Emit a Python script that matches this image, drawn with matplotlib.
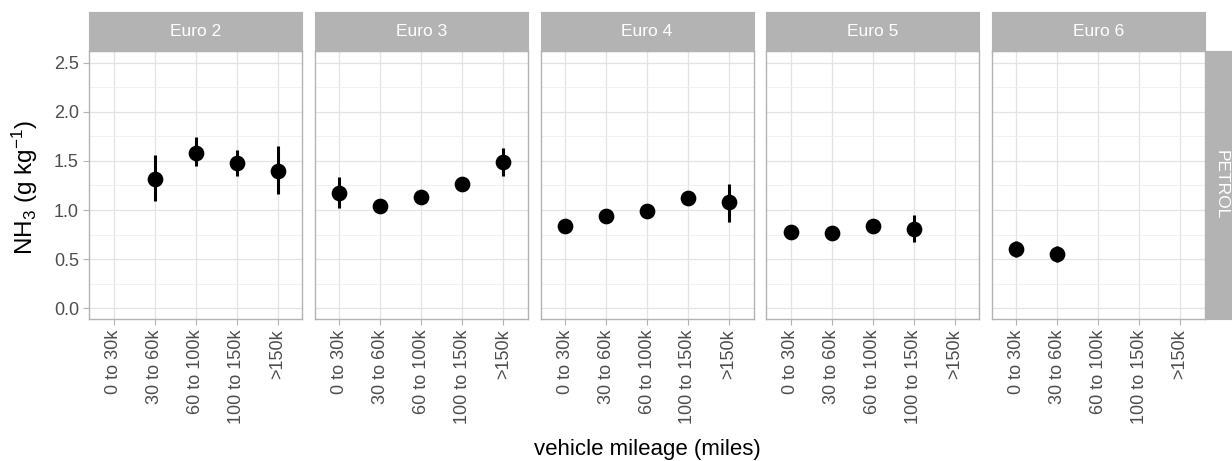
import numpy as np
import matplotlib
matplotlib.use("Agg")
import matplotlib.pyplot as plt
from matplotlib.ticker import MultipleLocator

plt.rcParams['font.family'] = ['Liberation Sans', 'DejaVu Sans']
plt.rcParams['mathtext.fontset'] = 'custom'
plt.rcParams['mathtext.rm'] = 'Liberation Sans'
plt.rcParams['mathtext.it'] = 'Liberation Sans:italic'
plt.rcParams['mathtext.bf'] = 'Liberation Sans:bold'

nan = np.nan
categories = ['0 to 30k', '30 to 60k', '60 to 100k', '100 to 150k', '>150k']
euro_classes = ['Euro 2', 'Euro 3', 'Euro 4', 'Euro 5', 'Euro 6']
fuel = 'PETROL'

euro2_mean = [nan, 1.32, 1.585, 1.48, 1.395]
euro2_lo = [nan, 1.09, 1.45, 1.35, 1.16]
euro2_hi = [nan, 1.56, 1.74, 1.615, 1.65]

euro3_mean = [1.17, 1.04, 1.13, 1.27, 1.487]
euro3_lo = [1.025, 1.00, 1.09, 1.23, 1.344]
euro3_hi = [1.34, 1.08, 1.17, 1.31, 1.635]

euro4_mean = [0.84, 0.943, 0.994, 1.126, 1.08]
euro4_lo = [0.80, 0.905, 0.955, 1.09, 0.876]
euro4_hi = [0.88, 0.98, 1.035, 1.16, 1.266]

euro5_mean = [0.777, 0.764, 0.84, 0.804, nan]
euro5_lo = [0.74, 0.725, 0.80, 0.672, nan]
euro5_hi = [0.81, 0.80, 0.875, 0.95, nan]

euro6_mean = [0.604, 0.553, nan, nan, nan]
euro6_lo = [0.525, 0.475, nan, nan, nan]
euro6_hi = [0.68, 0.63, nan, nan, nan]

means = [euro2_mean, euro3_mean, euro4_mean, euro5_mean, euro6_mean]
lows = [euro2_lo, euro3_lo, euro4_lo, euro5_lo, euro6_lo]
highs = [euro2_hi, euro3_hi, euro4_hi, euro5_hi, euro6_hi]

W, H = 1232, 461
fig = plt.figure(figsize=(W / 100, H / 100), dpi=100)

border = '#B3B3B3'
grid_major = '#E3E3E3'
grid_minor = '#EFEFEF'
txt_grey = '#4D4D4D'

left0, pw, step = 89.3, 213.0, 225.6
ptop, pbot = 50.7, 319.3
stop = 11.7

x = np.arange(len(categories))
yt = np.arange(0, 2.51, 0.5)
for i, name in enumerate(euro_classes):
    l = left0 + i * step
    ax = fig.add_axes([l / W, 1 - pbot / H, pw / W, (pbot - ptop) / H])
    m = np.array(means[i], dtype=float)
    lo = np.array(lows[i], dtype=float)
    hi = np.array(highs[i], dtype=float)
    ok = ~np.isnan(m)
    ax.vlines(x[ok], lo[ok], hi[ok], color='black', lw=2.2, zorder=3)
    ax.plot(x[ok], m[ok], 'o', color='black', ms=10.3, zorder=4)
    ax.set_xlim(-0.6, 4.6)
    ax.set_ylim(-0.112, 2.622)
    ax.set_xticks(x)
    ax.set_xticklabels(categories, rotation=90, ha='center', va='top')
    ax.set_yticks(yt)
    ax.set_yticklabels(['%.1f' % v for v in yt])
    ax.yaxis.set_minor_locator(MultipleLocator(0.25))
    ax.grid(True, which='major', color=grid_major, lw=0.9, zorder=0)
    ax.grid(True, which='minor', axis='y', color=grid_minor, lw=0.6, zorder=0)
    ax.set_axisbelow(True)
    ax.tick_params(axis='both', which='major', length=4.5, width=0.8, color=border,
                   labelcolor=txt_grey, labelsize=13, pad=3)
    ax.tick_params(axis='y', which='minor', length=0)
    if i > 0:
        ax.tick_params(axis='y', which='both', left=False, labelleft=False)
    for s in ax.spines.values():
        s.set_color(border)
        s.set_linewidth(1.0)

    # strip
    sax = fig.add_axes([l / W, 1 - ptop / H, pw / W, (ptop - stop) / H])
    sax.set_facecolor(border)
    sax.set_xticks([]); sax.set_yticks([])
    for s in sax.spines.values():
        s.set_color(border)
    sax.text(0.5, 0.5, name, color='white', fontsize=12.5, ha='center', va='center',
             transform=sax.transAxes)

# right strip
rl = left0 + 4 * step + pw + 1
rax = fig.add_axes([rl / W, 1 - pbot / H, 31 / W, (pbot - ptop) / H])
rax.set_facecolor(border)
rax.set_xticks([]); rax.set_yticks([])
for s in rax.spines.values():
    s.set_color(border)
rax.text(0.5, 0.5, fuel, color='white', fontsize=12.5, rotation=-90, ha='center', va='center',
         transform=rax.transAxes)

# axis titles
fig.text((left0 + (left0 + 4 * step + pw)) / 2 / W, 1 - 455 / H, 'vehicle mileage (miles)',
         ha='center', va='baseline', fontsize=16, color='black')
fig.text(25 / W, 1 - 188 / H, 'NH$_3$ (g kg$^{-1}$)', rotation=90,
         ha='center', va='center', fontsize=17.5, color='black')

fig.savefig('out.png', dpi=100)
